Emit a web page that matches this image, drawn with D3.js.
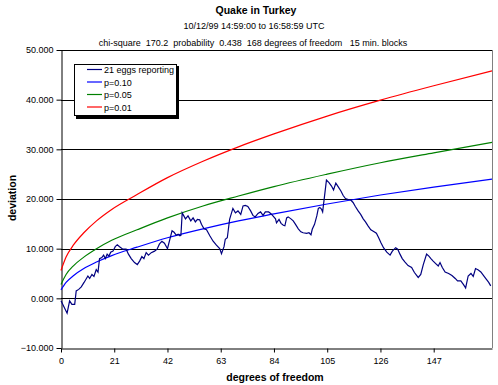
<!DOCTYPE html>
<meta charset="utf-8">
<script src="https://d3js.org/d3.v7.min.js"></script>
<style>
  body { margin: 0; background: #fff; }
  text { font-family: "Liberation Sans", Arial, sans-serif; fill: #000; }
</style>
<body>
<div id="chart"></div>
<script>
// degrees of freedom / deviation for the 21 eggs
var eggDof = [0,2.4,3.4,4.3,5.4,6.0,7.0,8.0,9.1,10.6,11.3,12.2,13.0,13.9,14.6,15.2,16.1,16.8,17.5,18.2,18.9,19.6,20.5,21.4,22.2,23.1,24.4,25.7,26.6,27.7,29.0,30.1,31.0,31.9,32.7,33.6,34.5,35.6,36.9,37.9,38.8,39.8,40.8,42.0,43.8,44.6,45.5,46.2,46.9,47.3,47.8,49.1,50.1,51.2,52.1,53.0,53.8,54.7,55.4,56.4,57.4,58.7,60.0,61.3,62.6,63.3,64.3,64.8,65.6,66.5,67.8,68.8,69.8,70.9,71.8,72.7,73.7,74.8,75.7,76.6,77.7,78.7,79.7,80.6,81.9,82.7,83.6,84.6,85.0,86.0,86.8,87.7,88.3,89.0,89.6,90.7,91.6,92.5,93.6,94.6,95.5,96.9,97.8,98.6,99.1,100.0,100.9,101.5,102.1,102.8,103.2,104.7,105.7,106.7,107.5,108.4,109.3,110.4,111.3,112.2,113.3,114.3,115.2,116.1,117.2,118.2,119.2,120.1,121.1,122.2,123.5,124.4,125.3,126.2,127.2,128.5,129.8,130.7,132.0,132.8,133.7,134.6,135.7,136.9,138.3,139.4,140.9,141.9,142.9,144.2,145.1,145.9,146.8,147.8,148.8,149.5,150.4,151.5,152.9,154.2,155.5,156.4,157.7,158.7,159.6,160.6,161.7,162.6,163.5,164.6,165.6,166.9,167.8,168.7,169.5];
var eggDev = [-0.5,-3.0,-0.5,-1.2,-1.2,1.5,1.8,2.3,3.2,4.5,4.0,4.8,4.4,5.8,5.3,8.0,8.2,8.7,8.0,8.9,8.5,9.3,9.5,10.4,10.8,10.4,9.9,9.9,8.9,8.0,7.2,6.8,7.5,8.4,8.0,9.2,8.7,9.2,9.5,9.9,10.9,11.5,11.1,10.0,13.6,13.3,12.7,12.9,12.6,12.7,17.2,16.0,16.6,15.6,16.2,15.4,15.9,15.8,14.9,14.0,13.8,12.6,11.5,10.7,10.0,9.0,10.4,11.9,12.2,15.9,18.1,17.2,17.6,16.9,18.6,18.7,18.5,17.6,16.7,16.4,17.1,17.4,16.7,17.4,17.4,17.1,16.6,16.0,15.2,15.9,15.1,14.7,14.6,16.2,16.4,16.0,15.6,14.9,14.0,13.4,13.2,13.1,13.2,12.8,13.9,14.9,16.6,18.1,18.3,17.9,17.4,23.8,23.3,22.6,21.8,23.2,22.5,21.6,20.7,20.1,19.9,19.8,19.3,18.5,17.6,16.9,16.0,15.4,14.6,13.8,13.4,13.1,12.2,11.2,10.2,9.3,8.7,9.5,10.2,9.9,8.9,8.0,7.3,6.6,6.2,5.2,4.2,4.8,6.8,8.9,8.5,8.0,7.5,7.0,6.5,7.2,6.2,5.3,5.0,4.6,4.0,3.5,3.5,2.8,2.1,4.5,5.0,4.4,6.0,5.7,5.3,4.4,3.8,3.2,2.5];

// significance curves
var pDof = [0, 2, 5, 9, 14, 20, 30, 42, 56, 70, 84, 105, 126, 147, 170];
var p10  = [1.7, 3.2, 4.6, 6.0, 7.3, 8.6, 10.3, 12.2, 14.0, 15.6, 17.0, 19.0, 20.8, 22.4, 24.0];
var p05  = [2.8, 4.8, 6.6, 8.3, 10.0, 11.7, 13.8, 16.2, 18.6, 20.6, 22.5, 25.0, 27.3, 29.3, 31.4];
var p01  = [5.6, 8.3, 10.8, 13.2, 15.6, 17.9, 20.9, 24.3, 27.6, 30.5, 33.1, 36.7, 39.9, 42.8, 45.8];

var xTicks = [0, 21, 42, 63, 84, 105, 126, 147];
var yTicks = [-10, 0, 10, 20, 30, 40, 50];

var W = 498, H = 385;
var plot = {left: 61, right: 492, top: 50, bottom: 348};

var svg = d3.select("#chart").append("svg")
    .attr("width", W)
    .attr("height", H);

var x = d3.scaleLinear().domain([0, 170]).range([plot.left, plot.right]);
var y = d3.scaleLinear().domain([-10, 50]).range([plot.bottom, plot.top]);

// titles
svg.append("text").attr("x", 256).attr("y", 14).attr("text-anchor", "middle")
  .style("font-size", "10.5px").style("font-weight", "bold").text("Quake in Turkey");
svg.append("text").attr("x", 254).attr("y", 29).attr("text-anchor", "middle")
  .style("font-size", "9px").text("10/12/99 14:59:00 to 16:58:59 UTC");
svg.append("text").attr("x", 253).attr("y", 46).attr("text-anchor", "middle")
  .style("font-size", "9px").style("white-space", "pre")
  .text("chi-square  170.2  probability  0.438  168 degrees of freedom   15 min. blocks");

// gridlines
svg.append("g").selectAll("line")
  .data(yTicks.filter(function(d){ return d > -10; }))
  .enter().append("line")
    .attr("x1", plot.left).attr("x2", plot.right)
    .attr("y1", function(d){ return Math.round(y(d)) + 0.5; })
    .attr("y2", function(d){ return Math.round(y(d)) + 0.5; })
    .attr("stroke", "#000").attr("stroke-width", 1);

// right border
svg.append("line").attr("x1", plot.right + 0.5).attr("x2", plot.right + 0.5)
  .attr("y1", plot.top).attr("y2", plot.bottom).attr("stroke", "#808080");

// axes
var yAxis = svg.append("g")
  .attr("transform", "translate(" + (plot.left + 0.5) + ",0)")
  .call(d3.axisLeft(y).tickValues(yTicks).tickSize(5).tickPadding(3)
    .tickSizeOuter(0).tickFormat(d3.format(",.3f")));
var xAxis = svg.append("g")
  .attr("transform", "translate(0," + (plot.bottom + 0.5) + ")")
  .call(d3.axisBottom(x).tickValues(xTicks).tickSize(4).tickPadding(5).tickSizeOuter(0));
[yAxis, xAxis].forEach(function(a){
  a.select(".domain").attr("stroke", "#000");
  a.selectAll("line").attr("stroke", "#000");
  a.selectAll("text").style("font-size", "9px").style("font-family", "Liberation Sans, Arial, sans-serif");
});

svg.append("text").attr("transform", "translate(16,198) rotate(-90)")
  .attr("text-anchor", "middle").style("font-size", "10.5px").style("font-weight", "bold")
  .text("deviation");
svg.append("text").attr("x", 275).attr("y", 381).attr("text-anchor", "middle")
  .style("font-size", "10.5px").style("font-weight", "bold").text("degrees of freedom");

// curves
var curveLine = d3.line()
  .x(function(d){ return x(d[0]); })
  .y(function(d){ return y(d[1]); })
  .curve(d3.curveMonotoneX);
var series = [
  {name: "p=0.01", color: "#ff0000", vals: p01},
  {name: "p=0.05", color: "#008000", vals: p05},
  {name: "p=0.10", color: "#0000ff", vals: p10}
];
series.forEach(function(s){
  svg.append("path")
    .datum(pDof.map(function(d, i){ return [d, s.vals[i]]; }))
    .attr("d", curveLine)
    .attr("fill", "none").attr("stroke", s.color).attr("stroke-width", 1.2);
});

var eggLine = d3.line()
  .x(function(d){ return x(d[0]); })
  .y(function(d){ return y(d[1]); });
svg.append("path")
  .datum(eggDof.map(function(d, i){ return [d, eggDev[i]]; }))
  .attr("d", eggLine)
  .attr("fill", "none").attr("stroke", "#000080").attr("stroke-width", 1.2);

// legend
var lg = svg.append("g").attr("transform", "translate(74,64)");
lg.append("rect").attr("x", 2).attr("y", 2).attr("width", 103).attr("height", 53).attr("fill", "#000");
lg.append("rect").attr("x", 0.5).attr("y", 0.5).attr("width", 102).attr("height", 51)
  .attr("fill", "#fff").attr("stroke", "#000");
var legendItems = [
  {name: "21 eggs reporting", color: "#000080"},
  {name: "p=0.10", color: "#0000ff"},
  {name: "p=0.05", color: "#008000"},
  {name: "p=0.01", color: "#ff0000"}
];
legendItems.forEach(function(d, i){
  var yy = 5.5 + i * 12.5;
  lg.append("line").attr("x1", 13).attr("x2", 28).attr("y1", yy).attr("y2", yy)
    .attr("stroke", d.color).attr("stroke-width", 1.2);
  lg.append("text").attr("x", 30).attr("y", yy + 3.5).style("font-size", "9px").text(d.name);
});
</script>
</body>
